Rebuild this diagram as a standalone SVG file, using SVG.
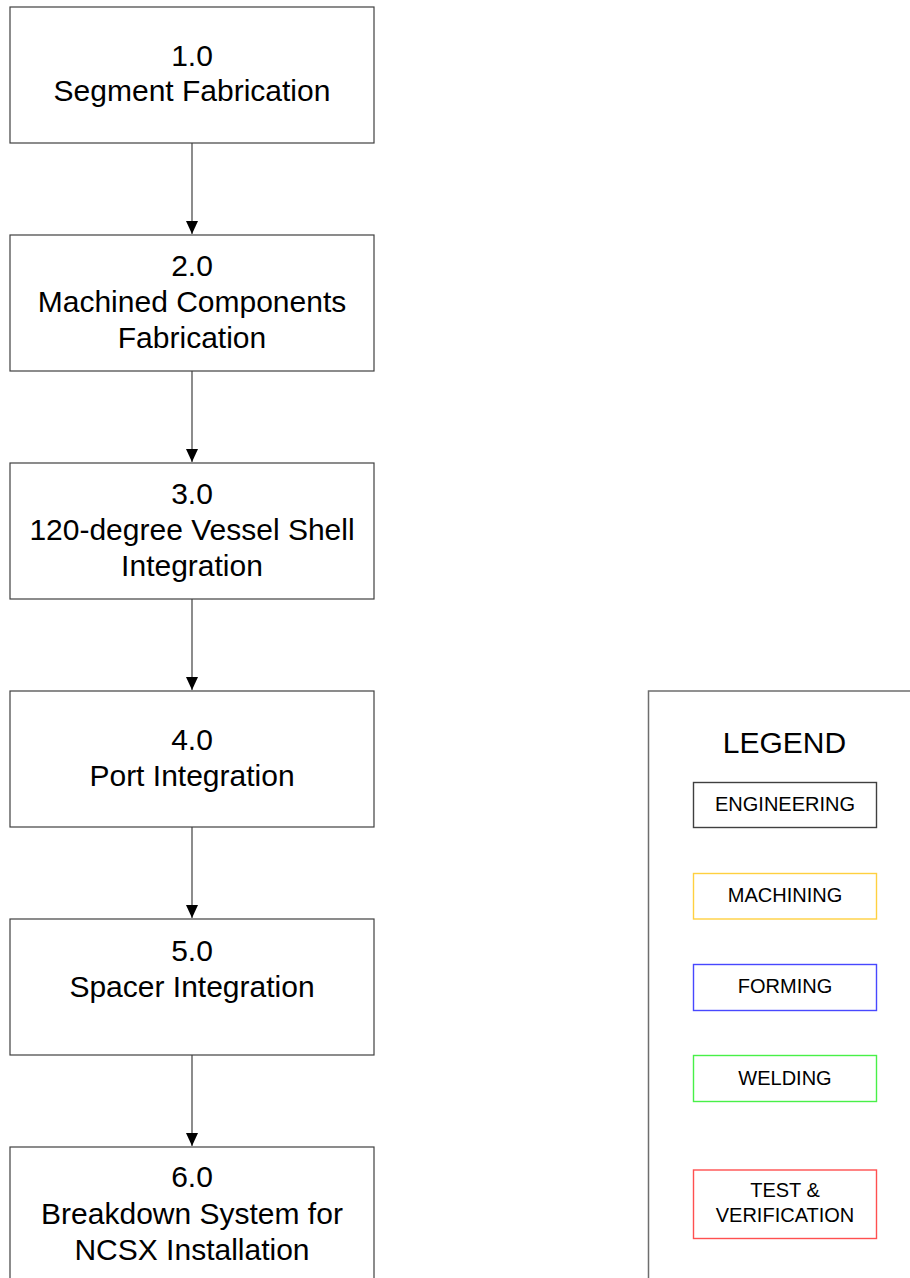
<svg xmlns="http://www.w3.org/2000/svg" width="910" height="1278" viewBox="0 0 910 1278">
  <style>
    .box { fill: #ffffff; stroke: #404040; stroke-width: 1.2; }
    .t { font-family: "Liberation Sans", Arial, sans-serif; font-size: 30px; fill: #000000; text-anchor: middle; }
    .lt { font-family: "Liberation Sans", Arial, sans-serif; font-size: 20px; fill: #000000; text-anchor: middle; }
    .conn { stroke: #404040; stroke-width: 1.2; fill: none; }
    .lbox { fill: #ffffff; stroke-width: 1.4; }
  </style>
  <defs>
    <marker id="arrow" markerUnits="userSpaceOnUse" markerWidth="13" markerHeight="12" refX="13" refY="6" orient="auto" viewBox="0 0 13 12">
      <path d="M0,0 L13,6 L0,12 Z" fill="#000000"/>
    </marker>
  </defs>
  <rect width="910" height="1278" fill="#ffffff"/>

  <g id="connectors">
    <line class="conn" x1="192" y1="143" x2="192" y2="234" marker-end="url(#arrow)"/>
    <line class="conn" x1="192" y1="371" x2="192" y2="462" marker-end="url(#arrow)"/>
    <line class="conn" x1="192" y1="599" x2="192" y2="690" marker-end="url(#arrow)"/>
    <line class="conn" x1="192" y1="827" x2="192" y2="918" marker-end="url(#arrow)"/>
    <line class="conn" x1="192" y1="1055" x2="192" y2="1146" marker-end="url(#arrow)"/>
  </g>

  <g id="node1">
    <rect class="box" x="10" y="7" width="364" height="136"/>
    <text class="t" x="192" y="65.5">1.0</text>
    <text class="t" x="192" y="101">Segment Fabrication</text>
  </g>
  <g id="node2">
    <rect class="box" x="10" y="235" width="364" height="136"/>
    <text class="t" x="192" y="276">2.0</text>
    <text class="t" x="192" y="312">Machined Components</text>
    <text class="t" x="192" y="348">Fabrication</text>
  </g>
  <g id="node3">
    <rect class="box" x="10" y="463" width="364" height="136"/>
    <text class="t" x="192" y="504">3.0</text>
    <text class="t" x="192" y="540">120-degree Vessel Shell</text>
    <text class="t" x="192" y="576">Integration</text>
  </g>
  <g id="node4">
    <rect class="box" x="10" y="691" width="364" height="136"/>
    <text class="t" x="192" y="749.5">4.0</text>
    <text class="t" x="192" y="786">Port Integration</text>
  </g>
  <g id="node5">
    <rect class="box" x="10" y="919" width="364" height="136"/>
    <text class="t" x="192" y="960.5">5.0</text>
    <text class="t" x="192" y="996.5">Spacer Integration</text>
  </g>
  <g id="node6">
    <rect class="box" x="10" y="1147" width="364" height="136"/>
    <text class="t" x="192" y="1187">6.0</text>
    <text class="t" x="192" y="1223.5">Breakdown System for</text>
    <text class="t" x="192" y="1260">NCSX Installation</text>
  </g>

  <g id="legend">
    <rect x="648.5" y="691" width="280" height="600" fill="#ffffff" stroke="#6e6e6e" stroke-width="1.5"/>
    <text class="t" x="784.5" y="752.5">LEGEND</text>
  </g>
  <g id="legend-engineering">
    <rect class="lbox" x="693.5" y="782.5" width="183" height="45" stroke="#404040"/>
    <text class="lt" x="785" y="810.5">ENGINEERING</text>
  </g>
  <g id="legend-machining">
    <rect class="lbox" x="693.5" y="873.5" width="183" height="45.5" stroke="#ffd040"/>
    <text class="lt" x="785" y="902">MACHINING</text>
  </g>
  <g id="legend-forming">
    <rect class="lbox" x="693.5" y="964.5" width="183" height="46" stroke="#4848ff"/>
    <text class="lt" x="785" y="993">FORMING</text>
  </g>
  <g id="legend-welding">
    <rect class="lbox" x="693.5" y="1055.5" width="183" height="46" stroke="#48f048"/>
    <text class="lt" x="785" y="1085">WELDING</text>
  </g>
  <g id="legend-test">
    <rect class="lbox" x="693.5" y="1170" width="183" height="68.5" stroke="#ff5050"/>
    <text class="lt" x="785" y="1196.5">TEST &amp;</text>
    <text class="lt" x="785" y="1221.5">VERIFICATION</text>
  </g>
</svg>
